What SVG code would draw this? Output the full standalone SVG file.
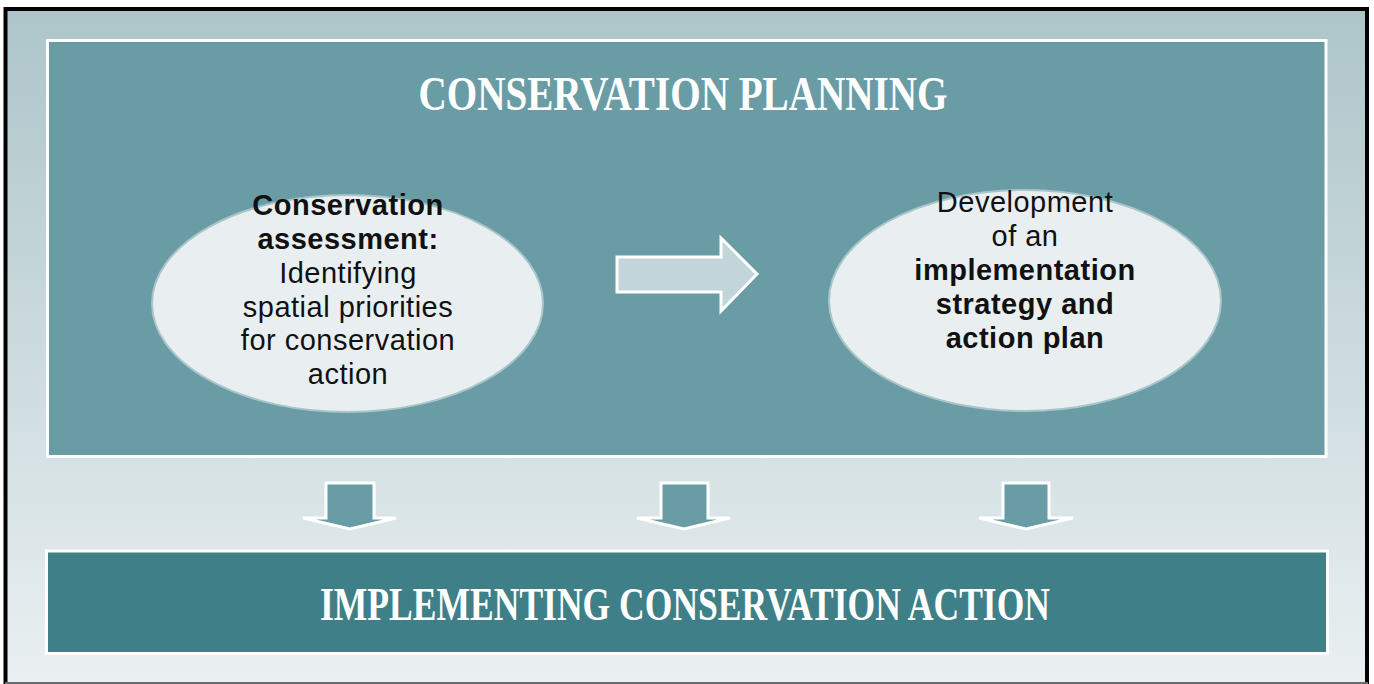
<svg xmlns="http://www.w3.org/2000/svg" width="1374" height="684" viewBox="0 0 1374 684">
  <defs>
    <linearGradient id="bg" x1="0" y1="0" x2="0" y2="1">
      <stop offset="0" stop-color="#adc5c9"/>
      <stop offset="1" stop-color="#eaf0f2"/>
    </linearGradient>
    <style>
      .panel { stroke: #ffffff; stroke-width: 3; }
      .ell { fill: #e9eff1; stroke: #a8c5ca; stroke-width: 2; }
      .title { font-family: "Liberation Serif", "Times New Roman", serif; font-weight: bold; fill: #ffffff; text-anchor: middle; }
      .body { font-family: "Liberation Sans", Arial, sans-serif; font-size: 29px; letter-spacing: 0.5px; fill: #111111; text-anchor: middle; }
      .b { font-weight: bold; }
      .darr { fill: #6a9ca6; stroke: #ffffff; stroke-width: 3; stroke-linejoin: miter; }
    </style>
  </defs>

  <g id="background">
    <rect x="5.5" y="9" width="1361.5" height="676" fill="url(#bg)"/>
    <path d="M5.5,684 V9 H1367 V684" fill="none" stroke="#000000" stroke-width="4"/>
    <line x1="5" y1="683" x2="1368" y2="683" stroke="#6b6b6b" stroke-width="2"/>
  </g>

  <g id="conservation-planning">
    <rect class="panel" x="47.5" y="40.5" width="1278.5" height="416" fill="#6a9ca6"/>
    <text class="title" x="683" y="110" font-size="48" textLength="529" lengthAdjust="spacingAndGlyphs">CONSERVATION PLANNING</text>
  </g>

  <g id="assessment">
    <ellipse class="ell" cx="347.5" cy="303.5" rx="195.5" ry="108.5"/>
    <text class="body b" x="348" y="215">Conservation</text>
    <text class="body b" x="348" y="249">assessment:</text>
    <text class="body" x="348" y="283">Identifying</text>
    <text class="body" x="348" y="317">spatial priorities</text>
    <text class="body" x="348" y="350">for conservation</text>
    <text class="body" x="348" y="384">action</text>
  </g>

  <g id="strategy">
    <ellipse class="ell" cx="1025" cy="300.5" rx="196" ry="110.5"/>
    <text class="body" x="1025" y="212">Development</text>
    <text class="body" x="1025" y="246">of an</text>
    <text class="body b" x="1025" y="280">implementation</text>
    <text class="body b" x="1025" y="314">strategy and</text>
    <text class="body b" x="1025" y="348">action plan</text>
  </g>

  <g id="connectors">
    <polygon points="617,257 721,257 721,238 757,274 721,311 721,292 617,292" fill="#c1d5da" stroke="#ffffff" stroke-width="3"/>
    <polygon class="darr" points="326,483 374,483 374,518 396,518 350,529 303,518 326,518"/>
    <polygon class="darr" points="661,483 708,483 708,518 730,518 684,529 637,518 661,518"/>
    <polygon class="darr" points="1003,483 1049,483 1049,518 1073,518 1026,529 979,518 1003,518"/>
  </g>

  <g id="implementing">
    <rect class="panel" x="46.5" y="551" width="1281" height="102.5" fill="#3e7f88"/>
    <text class="title" x="685" y="620" font-size="46" textLength="730" lengthAdjust="spacingAndGlyphs">IMPLEMENTING CONSERVATION ACTION</text>
  </g>
</svg>
